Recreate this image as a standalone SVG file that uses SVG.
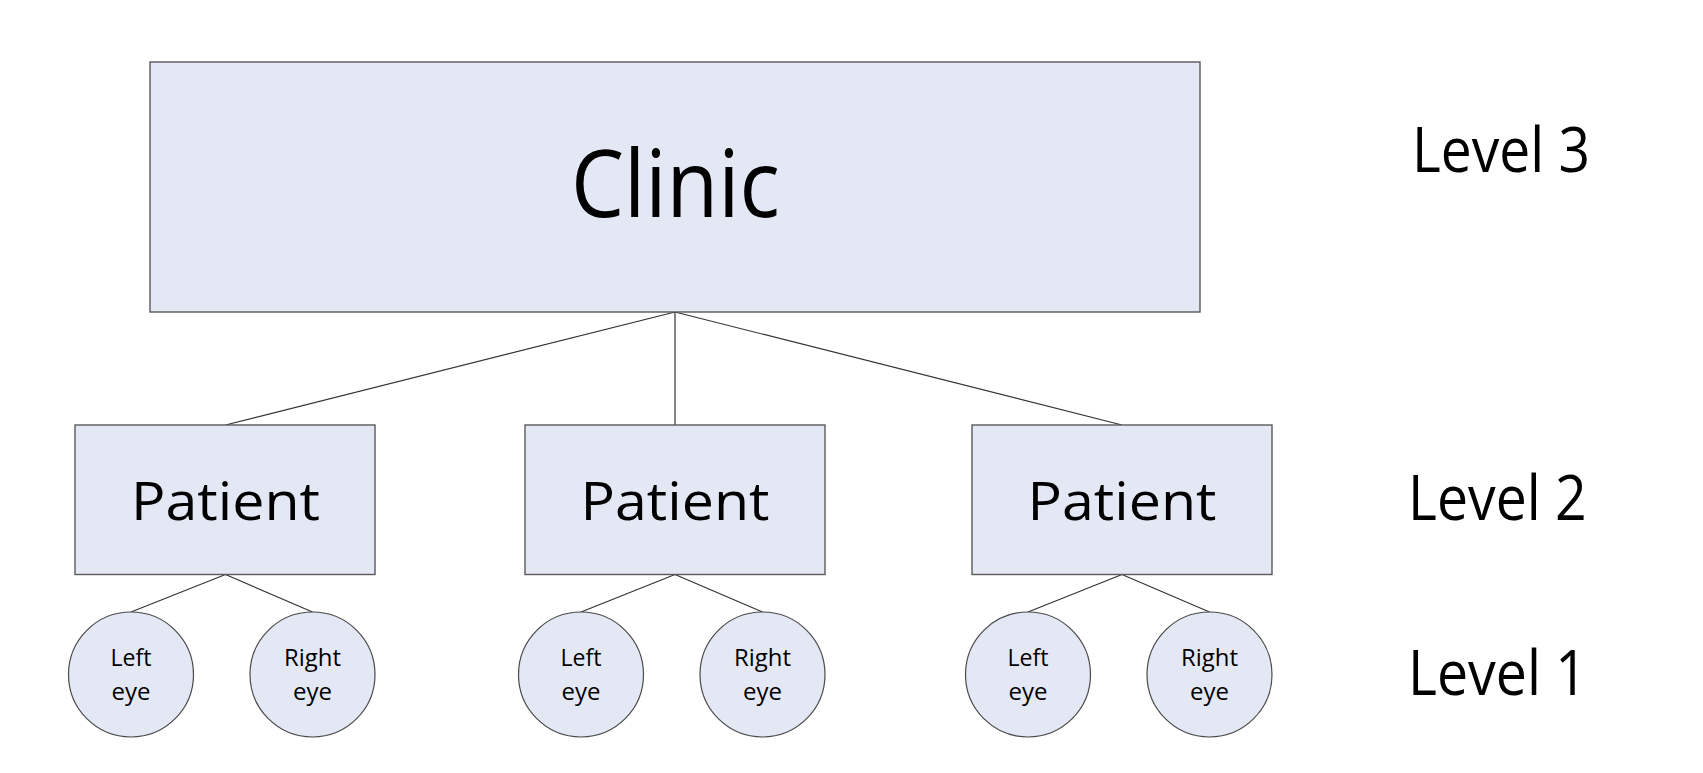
<svg xmlns="http://www.w3.org/2000/svg" width="1703" height="773" viewBox="0 0 1703 773">
<style>
.box{fill:#E4E8F4;stroke:#5a5a5a;stroke-width:1.4}
.eye{fill:#E4E8F4;stroke:#4a4a4a;stroke-width:1.2}
.con{stroke:#333333;stroke-width:1.2;fill:none}
text{font-family:"Open Sans","Noto Sans","Liberation Sans",sans-serif;fill:#000;text-anchor:middle}
.t1{font-size:94px}
.t2{font-size:53px}
.t3{font-size:24.5px}
.lv{font-size:62px}
</style>
<rect width="1703" height="773" fill="#ffffff"/>
<g id="connectors">
<line class="con" x1="675" y1="312" x2="225.5" y2="425"/>
<line class="con" x1="675" y1="312" x2="675" y2="425"/>
<line class="con" x1="675" y1="312" x2="1122" y2="425"/>
<line class="con" x1="225.5" y1="574.5" x2="131" y2="612"/>
<line class="con" x1="225.5" y1="574.5" x2="312.5" y2="612"/>
<line class="con" x1="675" y1="574.5" x2="581" y2="612"/>
<line class="con" x1="675" y1="574.5" x2="762.5" y2="612"/>
<line class="con" x1="1122" y1="574.5" x2="1028" y2="612"/>
<line class="con" x1="1122" y1="574.5" x2="1209.5" y2="612"/>
</g>
<g id="clinic">
<rect class="box" x="150" y="62" width="1050" height="250"/>
<text class="t1" x="675.4" y="217" textLength="209" lengthAdjust="spacingAndGlyphs">Clinic</text>
</g>
<g id="patient1">
<rect class="box" x="75" y="425" width="300" height="149.5"/>
<text class="t2" x="225.5" y="520" textLength="189" lengthAdjust="spacingAndGlyphs">Patient</text>
</g>
<g id="patient2">
<rect class="box" x="525" y="425" width="300" height="149.5"/>
<text class="t2" x="675" y="520" textLength="189" lengthAdjust="spacingAndGlyphs">Patient</text>
</g>
<g id="patient3">
<rect class="box" x="972" y="425" width="300" height="149.5"/>
<text class="t2" x="1122" y="520" textLength="189" lengthAdjust="spacingAndGlyphs">Patient</text>
</g>
<g id="eye1L">
<circle class="eye" cx="131" cy="674.5" r="62.5"/>
<text class="t3" x="131" y="666" textLength="41" lengthAdjust="spacingAndGlyphs">Left</text>
<text class="t3" x="131" y="699.5" textLength="39" lengthAdjust="spacingAndGlyphs">eye</text>
</g>
<g id="eye1R">
<circle class="eye" cx="312.5" cy="674.5" r="62.5"/>
<text class="t3" x="312.5" y="666" textLength="57" lengthAdjust="spacingAndGlyphs">Right</text>
<text class="t3" x="312.5" y="699.5" textLength="39" lengthAdjust="spacingAndGlyphs">eye</text>
</g>
<g id="eye2L">
<circle class="eye" cx="581" cy="674.5" r="62.5"/>
<text class="t3" x="581" y="666" textLength="41" lengthAdjust="spacingAndGlyphs">Left</text>
<text class="t3" x="581" y="699.5" textLength="39" lengthAdjust="spacingAndGlyphs">eye</text>
</g>
<g id="eye2R">
<circle class="eye" cx="762.5" cy="674.5" r="62.5"/>
<text class="t3" x="762.5" y="666" textLength="57" lengthAdjust="spacingAndGlyphs">Right</text>
<text class="t3" x="762.5" y="699.5" textLength="39" lengthAdjust="spacingAndGlyphs">eye</text>
</g>
<g id="eye3L">
<circle class="eye" cx="1028" cy="674.5" r="62.5"/>
<text class="t3" x="1028" y="666" textLength="41" lengthAdjust="spacingAndGlyphs">Left</text>
<text class="t3" x="1028" y="699.5" textLength="39" lengthAdjust="spacingAndGlyphs">eye</text>
</g>
<g id="eye3R">
<circle class="eye" cx="1209.5" cy="674.5" r="62.5"/>
<text class="t3" x="1209.5" y="666" textLength="57" lengthAdjust="spacingAndGlyphs">Right</text>
<text class="t3" x="1209.5" y="699.5" textLength="39" lengthAdjust="spacingAndGlyphs">eye</text>
</g>
<g id="levels">
<text class="lv" x="1501" y="171.7" textLength="178" lengthAdjust="spacingAndGlyphs">Level 3</text>
<text class="lv" x="1497.4" y="520" textLength="178.7" lengthAdjust="spacingAndGlyphs">Level 2</text>
<text class="lv" x="1497.5" y="695" textLength="179" lengthAdjust="spacingAndGlyphs">Level 1</text>
</g>
</svg>
